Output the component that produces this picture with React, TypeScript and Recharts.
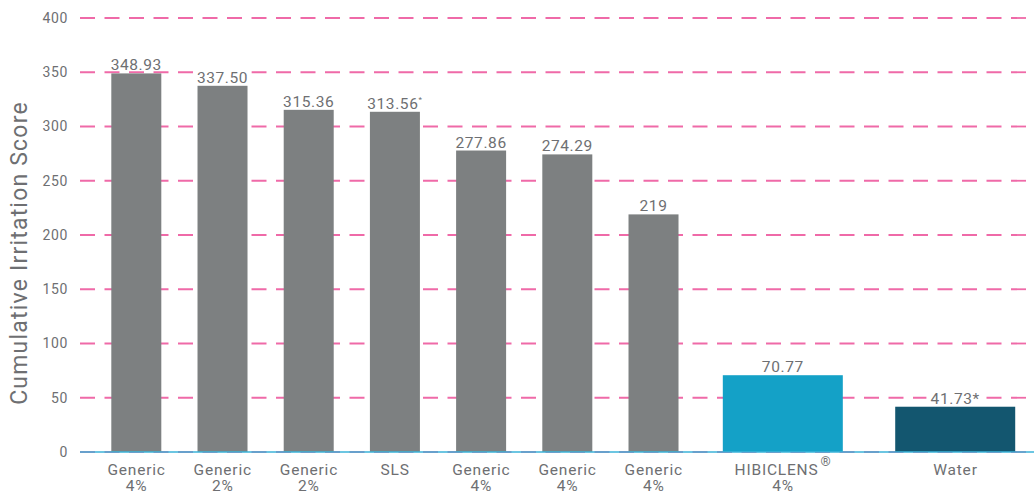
import React from "react";
import { BarChart, Bar, XAxis, YAxis, CartesianGrid, LabelList, Label } from "recharts";

// categories, values and the printed value labels
const CATEGORIES = [
  "Generic\n4%",
  "Generic\n2%",
  "Generic\n2%",
  "SLS",
  "Generic\n4%",
  "Generic\n4%",
  "Generic\n4%",
  "HIBICLENS®\n4%",
  "Water",
];
const SCORES = [348.93, 337.5, 315.36, 313.56, 277.86, 274.29, 219, 70.77, 41.73];
const SCORE_LABELS = ["348.93", "337.50", "315.36", "313.56^*", "277.86", "274.29", "219", "70.77", "41.73*"];
const Y_TICKS = [0, 50, 100, 150, 200, 250, 300, 350, 400];

// layout: which band each category sits in (the rest are empty spacer bands)
const SLOTS = [0, 2, 4, 6, 8, 10, 12, 15, 19];
const SLOT_COUNT = 20;

const GRAY = "#7d8081";
const TEXT = "#6e6f72";
const HIGHLIGHT: Record<string, string> = { "HIBICLENS®\n4%": "#14a1c7", Water: "#13566f" };

const table = Array.from({ length: SLOT_COUNT }, (_, i) => {
  const c = SLOTS.indexOf(i);
  return {
    key: "k" + i,
    cat: c,
    score: c >= 0 ? SCORES[c] : null,
  };
});

const FONT = "Roboto, 'Noto Sans', sans-serif";

function BarShape(props: any) {
  const { x, y, width, height, payload } = props;
  if (payload.cat < 0 || payload.score == null) return <g />;
  const name = CATEGORIES[payload.cat];
  const w = HIGHLIGHT[name] ? 120 : 50;
  const cx = x + width / 2;
  return <rect x={cx - w / 2} y={y} width={w} height={height} fill={HIGHLIGHT[name] ?? GRAY} />;
}

function ValueLabel(props: any) {
  const { x, y, width, value } = props;
  const c = SCORES.indexOf(Number(value));
  if (value == null || c < 0) return null;
  const [main, sup] = SCORE_LABELS[c].split("^");
  const cx = x + width / 2;
  const tw = main.length * 8.6 + (sup ? 5 : 0) + 6;
  return (
    <g>
      <rect x={cx - tw / 2} y={y - 16} width={tw} height={13} fill="#fff" />
      <text x={cx} y={y - 3} textAnchor="middle" fill={TEXT} fontFamily={FONT} fontSize={15.5} letterSpacing={0.6}>
        {main}
        {sup && (
          <tspan fontSize={8} dy={-7}>
            {sup}
          </tspan>
        )}
      </text>
    </g>
  );
}

function XTick(props: any) {
  const { x, y, payload } = props;
  const row = table.find((r) => r.key === payload.value);
  if (!row || row.cat < 0) return null;
  const lines = CATEGORIES[row.cat].split("\n");
  const first = lines[0].replace("®", "");
  const reg = lines[0].includes("®");
  return (
    <g>
      <text x={x} y={y + 23} textAnchor="middle" fill={TEXT} fontFamily={FONT} fontSize={15.5} letterSpacing={0.8}>
        {first}
        {reg && (
          <tspan fontSize={13} dy={-9} dx={2}>
            ®
          </tspan>
        )}
      </text>
      {lines[1] && (
        <text x={x} y={y + 39} textAnchor="middle" fill={TEXT} fontFamily={FONT} fontSize={15.5} letterSpacing={0.8}>
          {lines[1]}
        </text>
      )}
    </g>
  );
}

function YTitle(props: any) {
  const { viewBox } = props;
  const cy = viewBox.y + viewBox.height / 2 + 18;
  return (
    <text
      x={27}
      y={cy}
      transform={`rotate(-90, 27, ${cy})`}
      textAnchor="middle"
      fill={TEXT}
      fontFamily={FONT}
      fontSize={23}
      letterSpacing={1.2}
    >
      Cumulative Irritation Score
    </text>
  );
}

export default function App() {
  return (
    <div style={{ position: "absolute", left: 0, top: 0, background: "#fff" }}>
      <BarChart width={1034} height={494} data={table} margin={{ top: 18, right: 0, left: 0, bottom: 0 }}>
        <CartesianGrid vertical={false} stroke="#ef6aa8" strokeWidth={1.8} strokeDasharray="15 9.5" />
        <XAxis
          dataKey="key"
          interval={0}
          height={42}
          padding={{ left: 35, right: 57 }}
          tickLine={false}
          tickSize={0}
          tickMargin={0}
          axisLine={{ stroke: "#3bb3d9", strokeWidth: 1.6 }}
          tick={<XTick />}
        />
        <YAxis
          width={80}
          domain={[0, 400]}
          ticks={Y_TICKS}
          axisLine={false}
          tickLine={false}
          tickSize={0}
          tickMargin={12}
          tick={{ fill: TEXT, fontSize: 14, fontFamily: FONT, letterSpacing: 0.6 }}
        >
          <Label content={<YTitle />} />
        </YAxis>
        <Bar dataKey="score" shape={<BarShape />} isAnimationActive={false}>
          <LabelList dataKey="score" content={<ValueLabel />} />
        </Bar>
      </BarChart>
    </div>
  );
}
